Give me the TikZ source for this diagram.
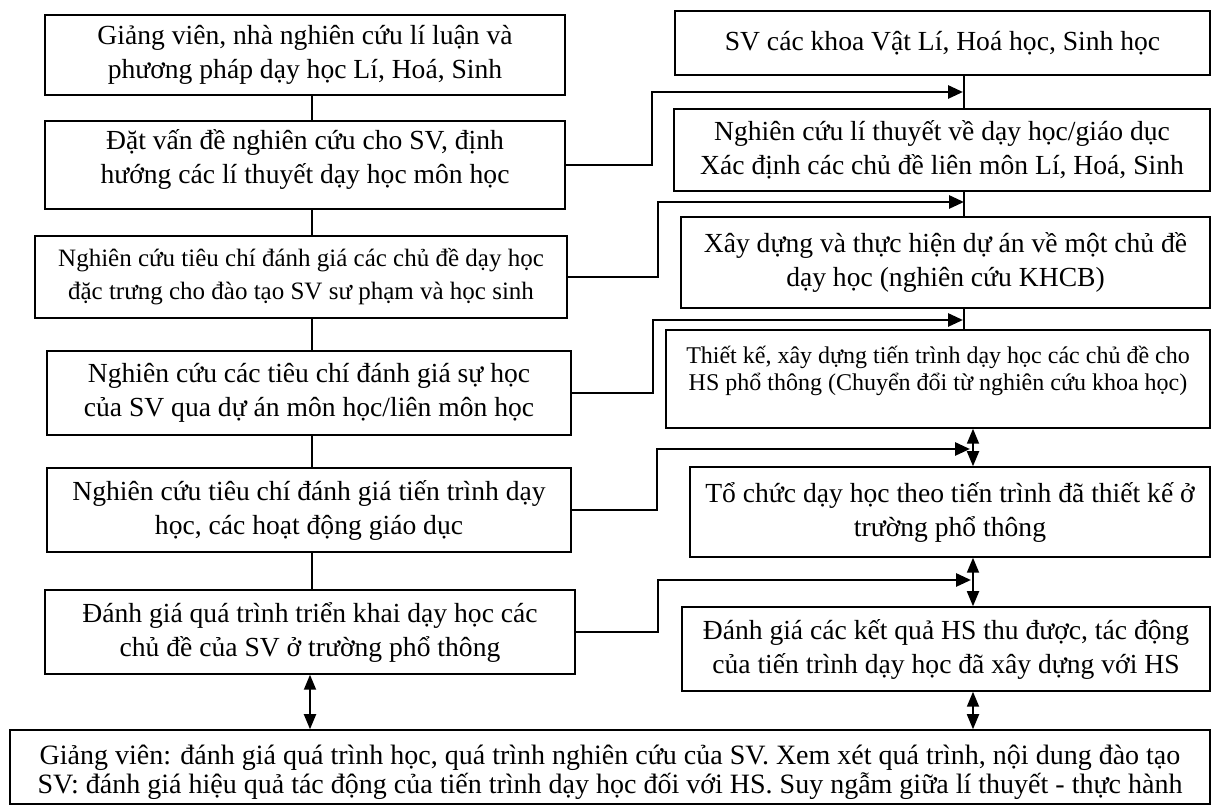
\documentclass[tikz,border=0pt]{standalone}
\usepackage{fontspec}
\setmainfont{Liberation Serif}
\usetikzlibrary{arrows.meta}
\newcommand\fmain{\fontsize{13.8}{17}\selectfont}
\newcommand\fbot{\fontsize{14}{14.5}\selectfont}
\newcommand\fsm{\fontsize{12.5}{16.5}\selectfont}
\newcommand\fxs{\fontsize{12}{13.5}\selectfont}
\begin{document}
\begin{tikzpicture}[x=0.5pt,y=-0.5pt,
  box/.style={draw, line width=0.75pt, inner sep=0pt, align=center, font=\fmain},
  vline/.style={line width=0.75pt},
  conn/.style={line width=1.4pt, -{Triangle[length=7.5pt,width=6.5pt]}},
  dbl/.style={line width=0.9pt, {Triangle[length=7.5pt,width=6pt]}-{Triangle[length=7.5pt,width=6pt]}}]
\useasboundingbox[fill=white] (0,0) rectangle (1217,807);

% left column
\node[box, minimum width=260pt, minimum height=40pt] (L1) at (305,55)
  {Giảng viên, nhà nghiên cứu lí luận và\\phương pháp dạy học Lí, Hoá, Sinh};
\node[box, minimum width=260pt, minimum height=44pt,
  label={[font=\fmain, align=center, yshift=3pt]center:Đặt vấn đề nghiên cứu cho SV, định\\hướng các lí thuyết dạy học môn học}]
  (L2) at (305,165) {};
\node[box, font=\fsm, minimum width=266pt, minimum height=41pt] (L3) at (301,277)
  {Nghiên cứu tiêu chí đánh giá các chủ đề dạy học\\đặc trưng cho đào tạo SV sư phạm và học sinh};
\node[box, minimum width=262pt, minimum height=42pt] (L4) at (309,393)
  {Nghiên cứu các tiêu chí đánh giá sự học\\của SV qua dự án môn học/liên môn học};
\node[box, minimum width=262pt, minimum height=42pt] (L5) at (309,510)
  {Nghiên cứu tiêu chí đánh giá tiến trình dạy\\học, các hoạt động giáo dục};
\node[box, minimum width=265pt, minimum height=42pt] (L6) at (310,632)
  {Đánh giá quá trình triển khai dạy học các\\chủ đề của SV ở trường phổ thông};

% bottom
\node[box, minimum width=600pt, minimum height=37pt,
  label={[font=\fbot, align=center, yshift=-2.5pt]center:Giảng viên: đánh giá quá trình học, quá trình nghiên cứu của SV. Xem xét quá trình, nội dung đào tạo\\SV: đánh giá hiệu quả tác động của tiến trình dạy học đối với HS. Suy ngẫm giữa lí thuyết - thực hành}]
  (B) at (610,767) {};

% right column
\node[box, minimum width=267.5pt, minimum height=32pt] (R1) at (942.5,43)
  {SV các khoa Vật Lí, Hoá học, Sinh học};
\node[box, minimum width=268pt, minimum height=41pt] (R2) at (942,150)
  {Nghiên cứu lí thuyết về dạy học/giáo dục\\Xác định các chủ đề liên môn Lí, Hoá, Sinh};
\node[box, minimum width=264.5pt, minimum height=45.5pt] (R3) at (945.5,262.5)
  {Xây dựng và thực hiện dự án về một chủ đề\\dạy học (nghiên cứu KHCB)};
\node[box, minimum width=272pt, minimum height=49pt,
  label={[font=\fxs, align=center, yshift=4.25pt]center:Thiết kế, xây dựng tiến trình dạy học các chủ đề cho\\HS phổ thông (Chuyển đổi từ nghiên cứu khoa học)}]
  (R4) at (938,379) {};
\node[box, minimum width=260pt, minimum height=45pt] (R5) at (950,512)
  {Tổ chức dạy học theo tiến trình đã thiết kế ở\\trường phổ thông};
\node[box, minimum width=264pt, minimum height=42pt] (R6) at (946,649)
  {Đánh giá các kết quả HS thu được, tác động\\của tiến trình dạy học đã xây dựng với HS};

% guide coordinates
\coordinate (lx) at (312,0);
\coordinate (ldx) at (310,0);
\coordinate (rx) at (964,0);
\coordinate (rdx) at (973,0);

% left vertical lines
\draw[vline] (L1.south -| lx) -- (L2.north -| lx);
\draw[vline] (L2.south -| lx) -- (L3.north -| lx);
\draw[vline] (L3.south -| lx) -- (L4.north -| lx);
\draw[vline] (L4.south -| lx) -- (L5.north -| lx);
\draw[vline] (L5.south -| lx) -- (L6.north -| lx);
\draw[dbl] (L6.south -| ldx) -- (B.north -| ldx);

% right vertical lines
\draw[vline] (R1.south -| rx) -- (R2.north -| rx);
\draw[vline] (R2.south -| rx) -- (R3.north -| rx);
\draw[vline] (R3.south -| rx) -- (R4.north -| rx);
\draw[dbl] (R4.south -| rdx) -- (R5.north -| rdx);
\draw[dbl] (R5.south -| rdx) -- (R6.north -| rdx);
\draw[dbl] (R6.south -| rdx) -- (B.north -| rdx);

% elbow connectors
\coordinate (e2) at (652,0);  \coordinate (t2) at (963,92);
\coordinate (e3) at (658,0);  \coordinate (t3) at (964,202);
\coordinate (e4) at (653,0);  \coordinate (t4) at (963,320);
\coordinate (e5) at (657,0);  \coordinate (t5) at (970,449);
\coordinate (e6) at (658,0);  \coordinate (t6) at (971,580);
\draw[conn] (L2.east) -- (L2.east -| e2) |- (t2);
\draw[conn] (L3.east) -- (L3.east -| e3) |- (t3);
\draw[conn] (L4.east) -- (L4.east -| e4) |- (t4);
\draw[conn] (L5.east) -- (L5.east -| e5) |- (t5);
\draw[conn] (L6.east) -- (L6.east -| e6) |- (t6);
\end{tikzpicture}
\end{document}
